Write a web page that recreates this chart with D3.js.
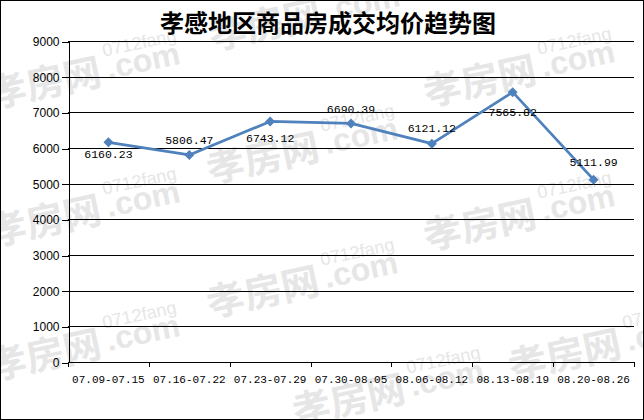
<!DOCTYPE html>
<html>
<head>
<meta charset="utf-8">
<script src="https://cdn.jsdelivr.net/npm/d3@7"></script>
<style>
  body { margin: 0; background: #fff; }
  svg { display: block; }
</style>
</head>
<body>
<svg id="chart" width="644" height="420"></svg>
<script>
  var categories = ["07.09-07.15", "07.16-07.22", "07.23-07.29", "07.30-08.05",
                    "08.06-08.12", "08.13-08.19", "08.20-08.26"];
  var prices = [6160.23, 5806.47, 6743.12, 6690.39, 6121.12, 7565.82, 5111.99];
  var yTicks = [0, 1000, 2000, 3000, 4000, 5000, 6000, 7000, 8000, 9000];
  var title = "孝感地区商品房成交均价趋势图";

  var width = 644, height = 420;
  var plotLeft = 68, plotRight = 634, plotTop = 41, plotBottom = 362;
  var lineColor = "#4f81bd";

  // label offset above / below each point (Excel auto placement)
  var labelDy = [12, -15, 16, -14, -16, 20, -18];

  var svg = d3.select("#chart");

  svg.append("rect")
      .attr("width", width).attr("height", height)
      .attr("fill", "#fff");

  // watermark tiles
  var wmSpots = [[-8, 108], [-8, 246], [-8, 380], [212, 50], [210, 183], [210, 317],
                 [296, 425], [427, 106], [427, 250], [512, 380]];
  var wm = svg.append("g").attr("fill", "#e6e6e6");
  wmSpots.forEach(function(p) {
    var g = wm.append("g").attr("transform", "translate(" + p[0] + "," + p[1] + ") rotate(-12)");
    g.append("text").attr("x", 0).attr("y", 0)
        .style("font", "bold 38px 'Noto Sans CJK SC'").text("孝房网");
    g.append("text").attr("x", 120).attr("y", -27)
        .style("font", "18px 'Liberation Sans'").text("0712fang");
    g.append("text").attr("x", 120).attr("y", -4)
        .style("font", "bold 32px 'Liberation Sans'").text(".com");
  });

  var x = d3.scaleBand()
      .domain(categories)
      .range([plotLeft, plotRight]);

  var y = d3.scaleLinear()
      .domain([0, 9000])
      .range([plotBottom, plotTop]);

  // horizontal grid
  svg.append("g")
      .attr("shape-rendering", "crispEdges")
    .selectAll("line")
      .data(yTicks)
    .enter().append("line")
      .attr("x1", plotLeft).attr("x2", plotRight)
      .attr("y1", function(d) { return Math.round(y(d)) + 0.5; })
      .attr("y2", function(d) { return Math.round(y(d)) + 0.5; })
      .attr("stroke", "#000");

  // y axis
  var yAxis = svg.append("g")
      .attr("transform", "translate(" + (plotLeft + 0.5) + ",0.5)")
      .call(d3.axisLeft(y).tickValues(yTicks).tickFormat(d3.format("d"))
        .tickSize(7).tickSizeOuter(0).tickPadding(2));
  yAxis.selectAll("path, line").attr("stroke", "#000").attr("shape-rendering", "crispEdges");
  yAxis.selectAll("text")
      .style("font", "12px 'Liberation Sans'")
      .attr("fill", "#000");

  // x axis: ticks on band edges, labels in band centres
  var edges = categories.map(function(c) { return x(c); }).concat([plotRight]);
  svg.append("g")
      .attr("shape-rendering", "crispEdges")
    .selectAll("line")
      .data(edges)
    .enter().append("line")
      .attr("x1", function(d) { return Math.round(d) + 0.5; })
      .attr("x2", function(d) { return Math.round(d) + 0.5; })
      .attr("y1", plotBottom).attr("y2", plotBottom + 5)
      .attr("stroke", "#000");

  svg.append("g")
    .selectAll("text")
      .data(categories)
    .enter().append("text")
      .attr("x", function(d) { return x(d) + x.bandwidth() / 2; })
      .attr("y", plotBottom + 17)
      .attr("dy", ".35em")
      .attr("text-anchor", "middle")
      .style("font", "11px 'Liberation Mono'")
      .text(function(d) { return d; });

  // line
  var line = d3.line()
      .x(function(d, i) { return x(categories[i]) + x.bandwidth() / 2; })
      .y(function(d) { return y(d); });

  svg.append("path")
      .datum(prices)
      .attr("d", line)
      .attr("fill", "none")
      .attr("stroke", lineColor)
      .attr("stroke-width", 2.75)
      .attr("stroke-linejoin", "round");

  svg.append("g")
    .selectAll("path")
      .data(prices)
    .enter().append("path")
      .attr("transform", function(d, i) {
        return "translate(" + (x(categories[i]) + x.bandwidth() / 2) + "," + y(d) + ")";
      })
      .attr("d", "M0,-5L5,0L0,5L-5,0Z")
      .attr("fill", lineColor);

  // value labels
  svg.append("g")
    .selectAll("text")
      .data(prices)
    .enter().append("text")
      .attr("x", function(d, i) { return x(categories[i]) + x.bandwidth() / 2; })
      .attr("y", function(d, i) { return y(d) + labelDy[i]; })
      .attr("dy", ".35em")
      .attr("text-anchor", "middle")
      .style("font", "11.5px 'Liberation Mono'")
      .text(function(d) { return d.toFixed(2); });

  // title
  svg.append("text")
      .attr("x", 328).attr("y", 32)
      .attr("text-anchor", "middle")
      .style("font", "bold 24px 'Noto Sans CJK SC'")
      .text(title);

  // outer frame
  svg.append("rect")
      .attr("x", 0.5).attr("y", 0.5)
      .attr("width", width - 1).attr("height", height - 1)
      .attr("fill", "none")
      .attr("stroke", "#000");
</script>
</body>
</html>
